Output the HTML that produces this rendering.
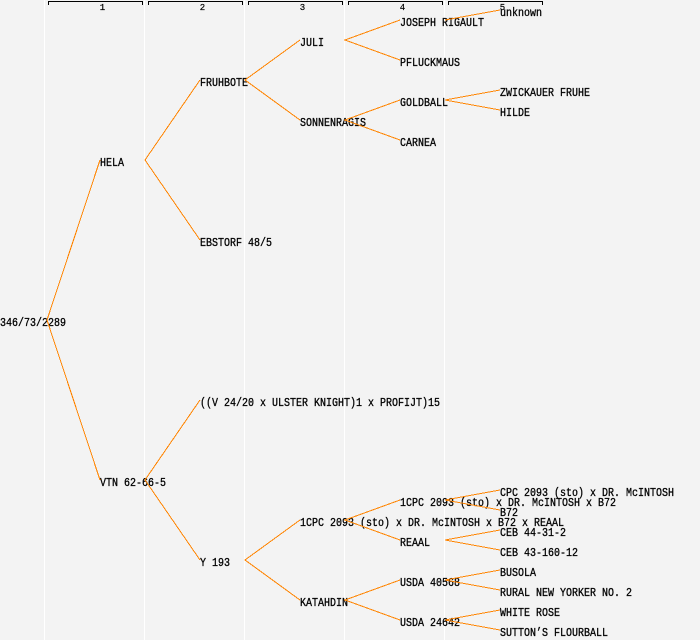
<!DOCTYPE html>
<html>
<head>
<meta charset="utf-8">
<style>
  html, body { margin: 0; padding: 0; background: #f3f3f3; }
  svg { display: block; }
  .t { font-family: "Liberation Mono", "DejaVu Sans Mono", monospace; font-size: 12px; fill: #000; stroke: #000; stroke-width: 0.3px; }
  .h { font-family: "Liberation Mono", "DejaVu Sans Mono", monospace; font-size: 9px; fill: #000; stroke: #000; stroke-width: 0.2px; }
  .l { stroke: #ff8400; stroke-width: 1; fill: none; }
</style>
</head>
<body>
<svg width="700" height="640" viewBox="0 0 700 640" xmlns="http://www.w3.org/2000/svg">
  <rect x="0" y="0" width="700" height="640" fill="#f3f3f3"/>
  <!-- column separators -->
  <g fill="#ffffff" shape-rendering="crispEdges">
    <rect x="44" y="0" width="1" height="640"/>
    <rect x="144" y="0" width="1" height="640"/>
    <rect x="244" y="0" width="1" height="640"/>
    <rect x="344" y="0" width="1" height="640"/>
    <rect x="444" y="0" width="1" height="640"/>
  </g>
  <!-- header brackets -->
  <g fill="#000" shape-rendering="crispEdges">
    <rect x="48" y="1" width="95" height="1"/><rect x="48" y="1" width="1" height="4"/><rect x="142" y="1" width="1" height="4"/>
    <rect x="148" y="1" width="95" height="1"/><rect x="148" y="1" width="1" height="4"/><rect x="242" y="1" width="1" height="4"/>
    <rect x="248" y="1" width="95" height="1"/><rect x="248" y="1" width="1" height="4"/><rect x="342" y="1" width="1" height="4"/>
    <rect x="348" y="1" width="95" height="1"/><rect x="348" y="1" width="1" height="4"/><rect x="442" y="1" width="1" height="4"/>
    <rect x="448" y="1" width="95" height="1"/><rect x="448" y="1" width="1" height="4"/><rect x="542" y="1" width="1" height="4"/>
  </g>
  <g class="h" text-anchor="middle">
    <text x="102.5" y="10">1</text>
    <text x="202.5" y="10">2</text>
    <text x="302.5" y="10">3</text>
    <text x="402.5" y="10">4</text>
    <text x="502.5" y="10">5</text>
  </g>
  <!-- labels -->
  <g class="t">
    <text x="0" y="326" textLength="66" lengthAdjust="spacingAndGlyphs">346/73/2289</text>
    <text x="100" y="166" textLength="24" lengthAdjust="spacingAndGlyphs">HELA</text>
    <text x="100" y="486" textLength="66" lengthAdjust="spacingAndGlyphs">VTN 62-66-5</text>
    <text x="200" y="86" textLength="48" lengthAdjust="spacingAndGlyphs">FRUHBOTE</text>
    <text x="200" y="246" textLength="72" lengthAdjust="spacingAndGlyphs">EBSTORF 48/5</text>
    <text x="200" y="406" textLength="240" lengthAdjust="spacingAndGlyphs">((V 24/20 x ULSTER KNIGHT)1 x PROFIJT)15</text>
    <text x="200" y="566" textLength="30" lengthAdjust="spacingAndGlyphs">Y 193</text>
    <text x="300" y="46" textLength="24" lengthAdjust="spacingAndGlyphs">JULI</text>
    <text x="300" y="126" textLength="66" lengthAdjust="spacingAndGlyphs">SONNENRAGIS</text>
    <text x="300" y="526" textLength="264" lengthAdjust="spacingAndGlyphs">1CPC 2093 (sto) x DR. McINTOSH x B72 x REAAL</text>
    <text x="300" y="606" textLength="48" lengthAdjust="spacingAndGlyphs">KATAHDIN</text>
    <text x="400" y="26" textLength="84" lengthAdjust="spacingAndGlyphs">JOSEPH RIGAULT</text>
    <text x="400" y="66" textLength="60" lengthAdjust="spacingAndGlyphs">PFLUCKMAUS</text>
    <text x="400" y="106" textLength="48" lengthAdjust="spacingAndGlyphs">GOLDBALL</text>
    <text x="400" y="146" textLength="36" lengthAdjust="spacingAndGlyphs">CARNEA</text>
    <text x="400" y="506" textLength="216" lengthAdjust="spacingAndGlyphs">1CPC 2093 (sto) x DR. McINTOSH x B72</text>
    <text x="400" y="546" textLength="30" lengthAdjust="spacingAndGlyphs">REAAL</text>
    <text x="400" y="586" textLength="60" lengthAdjust="spacingAndGlyphs">USDA 40568</text>
    <text x="400" y="626" textLength="60" lengthAdjust="spacingAndGlyphs">USDA 24642</text>
    <text x="500" y="16" textLength="42" lengthAdjust="spacingAndGlyphs">unknown</text>
    <text x="500" y="96" textLength="90" lengthAdjust="spacingAndGlyphs">ZWICKAUER FRUHE</text>
    <text x="500" y="116" textLength="30" lengthAdjust="spacingAndGlyphs">HILDE</text>
    <text x="500" y="496" textLength="174" lengthAdjust="spacingAndGlyphs">CPC 2093 (sto) x DR. McINTOSH</text>
    <text x="500" y="516" textLength="18" lengthAdjust="spacingAndGlyphs">B72</text>
    <text x="500" y="536" textLength="66" lengthAdjust="spacingAndGlyphs">CEB 44-31-2</text>
    <text x="500" y="556" textLength="78" lengthAdjust="spacingAndGlyphs">CEB 43-160-12</text>
    <text x="500" y="576" textLength="36" lengthAdjust="spacingAndGlyphs">BUSOLA</text>
    <text x="500" y="596" textLength="132" lengthAdjust="spacingAndGlyphs">RURAL NEW YORKER NO. 2</text>
    <text x="500" y="616" textLength="60" lengthAdjust="spacingAndGlyphs">WHITE ROSE</text>
    <text x="500" y="636" textLength="108" lengthAdjust="spacingAndGlyphs">SUTTON’S FLOURBALL</text>
  </g>
  <!-- connectors -->
  <g class="l" shape-rendering="crispEdges">
    <path d="M100,160 L47,320 L100,480"/>
    <path d="M200,80 L145,160 L200,240"/>
    <path d="M200,400 L145,480 L200,560"/>
    <path d="M300,40 L245,80 L300,120"/>
    <path d="M300,520 L245,560 L300,600"/>
    <path d="M400,20 L345,40 L400,60"/>
    <path d="M400,100 L345,120 L400,140"/>
    <path d="M400,500 L345,520 L400,540"/>
    <path d="M400,580 L345,600 L400,620"/>
    <path d="M445,20 L500,10"/>
    <path d="M500,90 L445,100 L500,110"/>
    <path d="M500,490 L445,500 L500,510"/>
    <path d="M500,530 L445,540 L500,550"/>
    <path d="M500,570 L445,580 L500,590"/>
    <path d="M500,610 L445,620 L500,630"/>
  </g>
</svg>
</body>
</html>
